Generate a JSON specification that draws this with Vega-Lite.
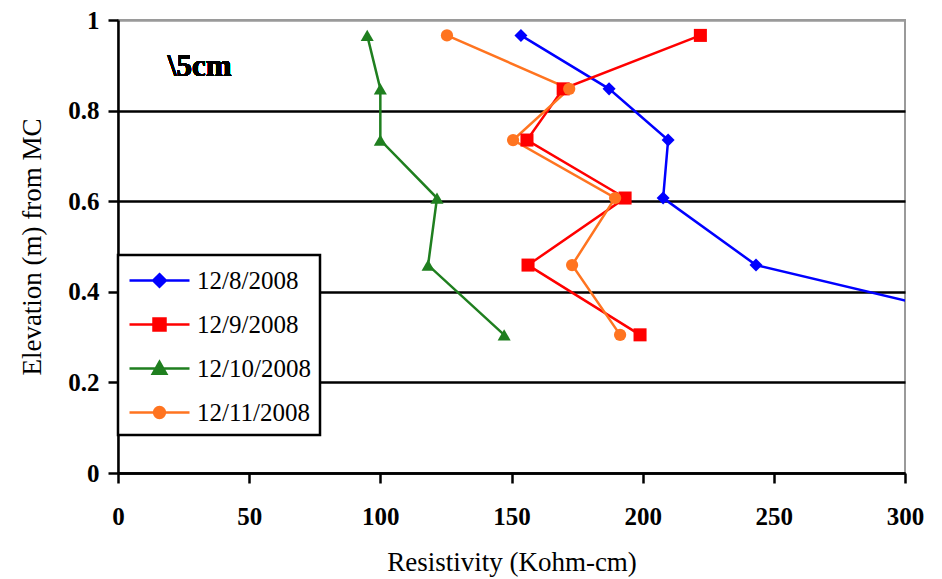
{
  "$schema": "https://vega.github.io/schema/vega-lite/v6.json",
  "width": 787,
  "height": 453,
  "autosize": {"type": "none"},
  "padding": {"left": 118, "top": 20, "right": 37, "bottom": 106},
  "background": "white",
  "config": {
    "view": {"stroke": "#9a9a9a", "strokeWidth": 2},
    "font": "Liberation Serif",
    "legend": {"strokeWidth": 2.5, "labelFont": "Liberation Serif"}
  },
  "data": {
    "values": [
      {"date": "12/8/2008", "res": 153.6, "elev": 0.966},
      {"date": "12/8/2008", "res": 187.2, "elev": 0.848},
      {"date": "12/8/2008", "res": 209.7, "elev": 0.735},
      {"date": "12/8/2008", "res": 207.8, "elev": 0.607},
      {"date": "12/8/2008", "res": 243.2, "elev": 0.459},
      {"date": "12/8/2008", "res": 355, "elev": 0.305},
      {"date": "12/9/2008", "res": 222, "elev": 0.966},
      {"date": "12/9/2008", "res": 169.7, "elev": 0.848},
      {"date": "12/9/2008", "res": 155.9, "elev": 0.735},
      {"date": "12/9/2008", "res": 193.3, "elev": 0.607},
      {"date": "12/9/2008", "res": 156.3, "elev": 0.459},
      {"date": "12/9/2008", "res": 199, "elev": 0.305},
      {"date": "12/10/2008", "res": 95, "elev": 0.966},
      {"date": "12/10/2008", "res": 100, "elev": 0.848},
      {"date": "12/10/2008", "res": 100, "elev": 0.735},
      {"date": "12/10/2008", "res": 121.6, "elev": 0.607},
      {"date": "12/10/2008", "res": 118.2, "elev": 0.459},
      {"date": "12/10/2008", "res": 147.2, "elev": 0.305},
      {"date": "12/11/2008", "res": 125.4, "elev": 0.966},
      {"date": "12/11/2008", "res": 172, "elev": 0.848},
      {"date": "12/11/2008", "res": 150.6, "elev": 0.735},
      {"date": "12/11/2008", "res": 189.5, "elev": 0.607},
      {"date": "12/11/2008", "res": 173.1, "elev": 0.459},
      {"date": "12/11/2008", "res": 191.4, "elev": 0.305}
    ]
  },
  "encoding": {
    "x": {
      "field": "res",
      "type": "quantitative",
      "scale": {"domain": [0, 300], "nice": false, "zero": false},
      "axis": {
        "title": "Resistivity (Kohm-cm)",
        "values": [0, 50, 100, 150, 200, 250, 300],
        "grid": false,
        "domainColor": "black",
        "domainWidth": 2.5,
        "tickColor": "black",
        "tickWidth": 2.5,
        "tickSize": 10,
        "labelFont": "Liberation Serif",
        "labelFontSize": 25,
        "labelFontWeight": "bold",
        "labelColor": "black",
        "labelPadding": 21,
        "labelFlush": false,
        "titleFont": "Liberation Serif",
        "titleFontSize": 27,
        "titleFontWeight": "normal",
        "titleColor": "black",
        "titlePadding": 20
      }
    },
    "y": {
      "field": "elev",
      "type": "quantitative",
      "scale": {"domain": [0, 1], "nice": false},
      "axis": {
        "title": "Elevation (m) from MC",
        "values": [0, 0.2, 0.4, 0.6, 0.8, 1],
        "format": "~g",
        "grid": true,
        "gridColor": {"condition": {"test": "datum.value >= 1", "value": "#9a9a9a"}, "value": "black"},
        "gridWidth": 2.5,
        "gridOpacity": 1,
        "domainColor": "black",
        "domainWidth": 2.5,
        "tickColor": "black",
        "tickWidth": 2.5,
        "tickSize": 10,
        "labelFont": "Liberation Serif",
        "labelFontSize": 25,
        "labelFontWeight": "bold",
        "labelColor": "black",
        "labelPadding": 9,
        "labelFlush": false,
        "titleFont": "Liberation Serif",
        "titleFontSize": 27,
        "titleFontWeight": "normal",
        "titleColor": "black",
        "titlePadding": 21
      }
    },
    "color": {
      "field": "date",
      "type": "nominal",
      "scale": {
        "domain": ["12/8/2008", "12/9/2008", "12/10/2008", "12/11/2008"],
        "range": ["#0000ff", "#ff0000", "#1f7f1f", "#ff7420"]
      },
      "legend": {
        "title": null,
        "orient": "none",
        "legendX": 0,
        "legendY": 235,
        "padding": 9,
        "fillColor": "white",
        "strokeColor": "black",
        "cornerRadius": 0,
        "symbolSize": 900,
        "symbolOffset": 16,
        "symbolStrokeWidth": 2.5,
        "labelOffset": 21,
        "rowPadding": 14,
        "labelFont": "Liberation Serif",
        "labelFontSize": 25,
        "labelColor": "black",
        "labelLimit": 300,
        "encode": {
          "symbols": {
            "update": {
              "shape": {"signal": "datum.value === '12/8/2008' ? 'M-2,0H2M0,-0.42L0.42,0L0,0.42L-0.42,0Z' : datum.value === '12/9/2008' ? 'M-2,0H2M-0.4,-0.4H0.4V0.4H-0.4Z' : datum.value === '12/10/2008' ? 'M-2,0H2M0,-0.45L0.45,0.35L-0.45,0.35Z' : 'M-2,0H2M-0.36,0A0.36,0.36,0,1,0,0.36,0A0.36,0.36,0,1,0,-0.36,0Z'"},
              "fill": {"signal": "scale('color', datum.value)"},
              "stroke": {"signal": "scale('color', datum.value)"}
            }
          },
          "labels": {
            "update": {
              "font": {"signal": "'Liberation Serif'"}
            }
          }
        }
      }
    }
  },
  "layer": [
    {
      "mark": {"type": "line", "strokeWidth": 2.5, "clip": true},
      "encoding": {
        "order": {"field": "elev", "type": "quantitative"}
      }
    },
    {
      "transform": [{"filter": "datum.date === '12/8/2008'"}],
      "mark": {"type": "point", "shape": "diamond", "filled": true, "size": 170, "opacity": 1, "clip": true}
    },
    {
      "transform": [{"filter": "datum.date === '12/9/2008'"}],
      "mark": {"type": "point", "shape": "square", "filled": true, "size": 170, "opacity": 1, "clip": true}
    },
    {
      "transform": [{"filter": "datum.date === '12/10/2008'"}],
      "mark": {"type": "point", "shape": "triangle-up", "filled": true, "size": 170, "opacity": 1, "clip": true}
    },
    {
      "transform": [{"filter": "datum.date === '12/11/2008'"}],
      "mark": {"type": "point", "shape": "circle", "filled": true, "size": 150, "opacity": 1, "clip": true}
    },
    {
      "mark": {"type": "text", "fontWeight": "bold", "fontSize": 31, "align": "left", "baseline": "middle", "font": "Liberation Serif", "color": "black"},
      "encoding": {
        "x": {"datum": 19},
        "y": {"datum": 0.896},
        "text": {"value": "\\5cm"},
        "color": {"value": "black"}
      }
    }
  ]
}
